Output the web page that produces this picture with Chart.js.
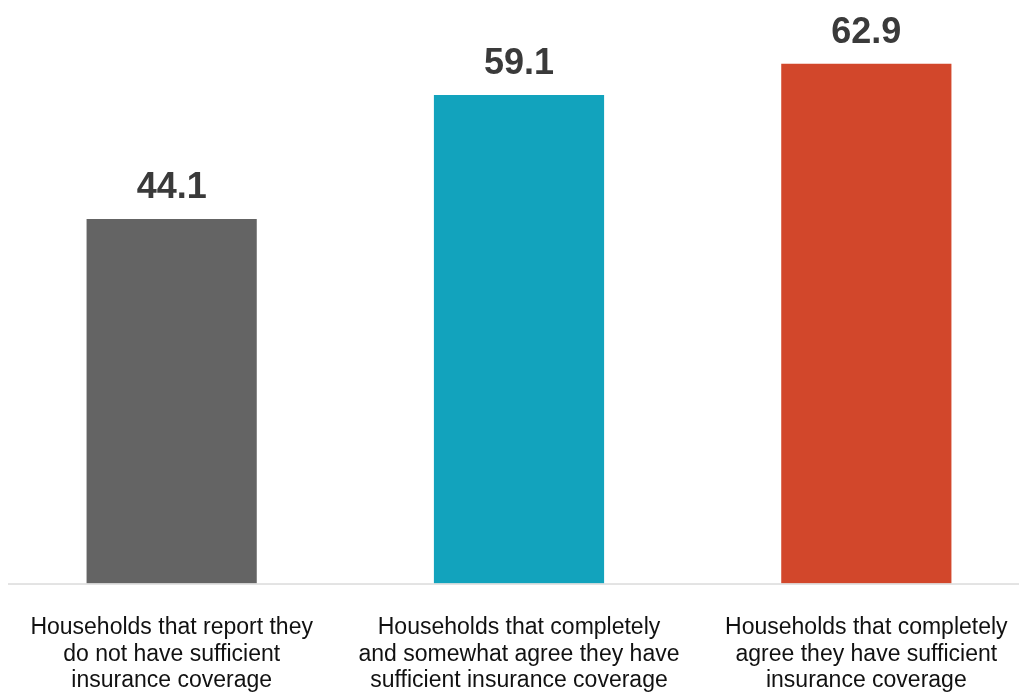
<!DOCTYPE html>
<html>
<head>
<meta charset="utf-8">
<script src="https://cdn.jsdelivr.net/npm/chart.js"></script>
<style>
  html, body { margin: 0; padding: 0; background: #fff; overflow: hidden; }
  #wrap { position: absolute; left: -2px; top: 0; width: 1042px; height: 717px; }
</style>
</head>
<body>
<div id="wrap"><canvas id="chart" width="1042" height="717"></canvas></div>
<script>
const categories = [
  ["Households that report they", "do not have sufficient", "insurance coverage"],
  ["Households that completely", "and somewhat agree they have", "sufficient insurance coverage"],
  ["Households that completely", "agree they have sufficient", "insurance coverage"]
];
const values = [44.1, 59.1, 62.9];
const barColors = ["#646464", "#12a3bd", "#d2472b"];

// value labels above each bar
const valueLabels = {
  id: "valueLabels",
  afterDatasetsDraw(chart) {
    const ctx = chart.ctx;
    const meta = chart.getDatasetMeta(0);
    ctx.save();
    ctx.font = "bold 36px 'Liberation Sans', Arial, sans-serif";
    ctx.fillStyle = "#3a3a3a";
    ctx.textAlign = "center";
    ctx.textBaseline = "alphabetic";
    meta.data.forEach((bar, i) => {
      ctx.fillText(values[i].toFixed(1), bar.x, bar.y - 21);
    });
    ctx.restore();
  }
};

// thin baseline under the bars
const baseline = {
  id: "baseline",
  afterDatasetsDraw(chart) {
    const ctx = chart.ctx;
    const y = chart.scales.y.getPixelForValue(0);
    ctx.save();
    ctx.strokeStyle = "#c8c8c8";
    ctx.lineWidth = 1;
    ctx.beginPath();
    ctx.moveTo(10, y + 0.5);
    ctx.lineTo(chart.width, y + 0.5);
    ctx.stroke();
    ctx.restore();
  }
};

new Chart(document.getElementById("chart").getContext("2d"), {
  type: "bar",
  data: {
    labels: categories,
    datasets: [{
      data: values,
      backgroundColor: barColors,
      borderWidth: 0,
      barPercentage: 0.49,
      categoryPercentage: 1
    }]
  },
  options: {
    responsive: false,
    animation: false,
    layout: { padding: 0 },
    plugins: { legend: { display: false }, tooltip: { enabled: false } },
    scales: {
      x: {
        grid: { display: false },
        border: { display: false },
        ticks: {
          color: "#111",
          padding: 23,
          maxRotation: 0,
          autoSkip: false,
          font: { family: "'Liberation Sans', Arial, sans-serif", size: 23, lineHeight: 1.152 }
        }
      },
      y: {
        display: false,
        min: 0,
        max: 70.6
      }
    }
  },
  plugins: [valueLabels, baseline]
});
</script>
</body>
</html>
